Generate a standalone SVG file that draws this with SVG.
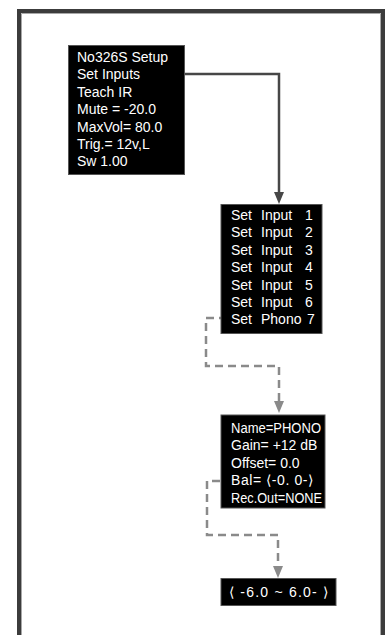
<svg xmlns="http://www.w3.org/2000/svg" width="387" height="635" viewBox="0 0 387 635">
<defs>
<style>
.box{fill:#000;stroke:#555;stroke-width:1}
.t{font-family:"Liberation Sans",Arial,sans-serif;font-size:14px;fill:#fff}
.solid{fill:none;stroke:#474747;stroke-width:2.5}
.dash{fill:none;stroke:#8a8a8a;stroke-width:2.5;stroke-dasharray:8,5}
</style>
</defs>
<rect width="387" height="635" fill="#fff"/>
<g id="frame">
<path d="M19,635 V11 H383 V635" fill="none" stroke="#3c3c3c" stroke-width="4"/>
<path d="M21.5,635 V13.5 H380.5 V635" fill="none" stroke="#a8a8a8" stroke-width="1"/>
</g>
<g id="connectors">
<path class="solid" d="M149,74 H279 V192"/>
<path d="M274,192 L284,192 L279,204 Z" fill="#474747"/>
<path class="dash" d="M227,318 H206 V366 H279 V401"/>
<path d="M274,401 L284,401 L279,413 Z" fill="#8a8a8a"/>
<path class="dash" d="M220,481 H207 V535 H278 V566"/>
<path d="M273,566 L283,566 L278,578 Z" fill="#8a8a8a"/>
</g>
<g id="setup">
<rect class="box" x="68.5" y="45.5" width="116" height="129"/>
<text class="t" x="77" y="62">No326S Setup</text>
<text class="t" x="77" y="79.4">Set Inputs</text>
<text class="t" x="77" y="96.8">Teach IR</text>
<text class="t" x="77" y="114.2">Mute = -20.0</text>
<text class="t" x="77" y="131.6">MaxVol= 80.0</text>
<text class="t" x="77" y="149">Trig.= 12v,L</text>
<text class="t" x="77" y="166.4">Sw 1.00</text>
</g>
<g id="inputs">
<rect class="box" x="221" y="204.5" width="101" height="129"/>
<text class="t" x="231" y="220">Set</text><text class="t" x="261" y="220">Input</text><text class="t" x="305" y="220">1</text>
<text class="t" x="231" y="237.4">Set</text><text class="t" x="261" y="237.4">Input</text><text class="t" x="305" y="237.4">2</text>
<text class="t" x="231" y="254.8">Set</text><text class="t" x="261" y="254.8">Input</text><text class="t" x="305" y="254.8">3</text>
<text class="t" x="231" y="272.2">Set</text><text class="t" x="261" y="272.2">Input</text><text class="t" x="305" y="272.2">4</text>
<text class="t" x="231" y="289.6">Set</text><text class="t" x="261" y="289.6">Input</text><text class="t" x="305" y="289.6">5</text>
<text class="t" x="231" y="307">Set</text><text class="t" x="261" y="307">Input</text><text class="t" x="305" y="307">6</text>
<text class="t" x="231" y="324.4">Set</text><text class="t" x="261" y="324.4">Phono</text><text class="t" x="307" y="324.4">7</text>
</g>
<g id="phono">
<rect class="box" x="221" y="415" width="104" height="93"/>
<text class="t" x="231" y="433" textLength="90" lengthAdjust="spacingAndGlyphs">Name=PHONO</text>
<text class="t" x="231" y="450.4">Gain= +12 dB</text>
<text class="t" x="231" y="467.8">Offset= 0.0</text>
<text class="t" x="231" y="485.2" textLength="82" lengthAdjust="spacing">Bal= ⟨-0. 0-⟩</text>
<text class="t" x="231" y="502.6" textLength="91" lengthAdjust="spacingAndGlyphs">Rec.Out=NONE</text>
</g>
<g id="range">
<rect class="box" x="221" y="578.5" width="115" height="27"/>
<text class="t" x="229" y="597" textLength="99" lengthAdjust="spacing">⟨ -6.0 ~ 6.0- ⟩</text>
</g>
</svg>
